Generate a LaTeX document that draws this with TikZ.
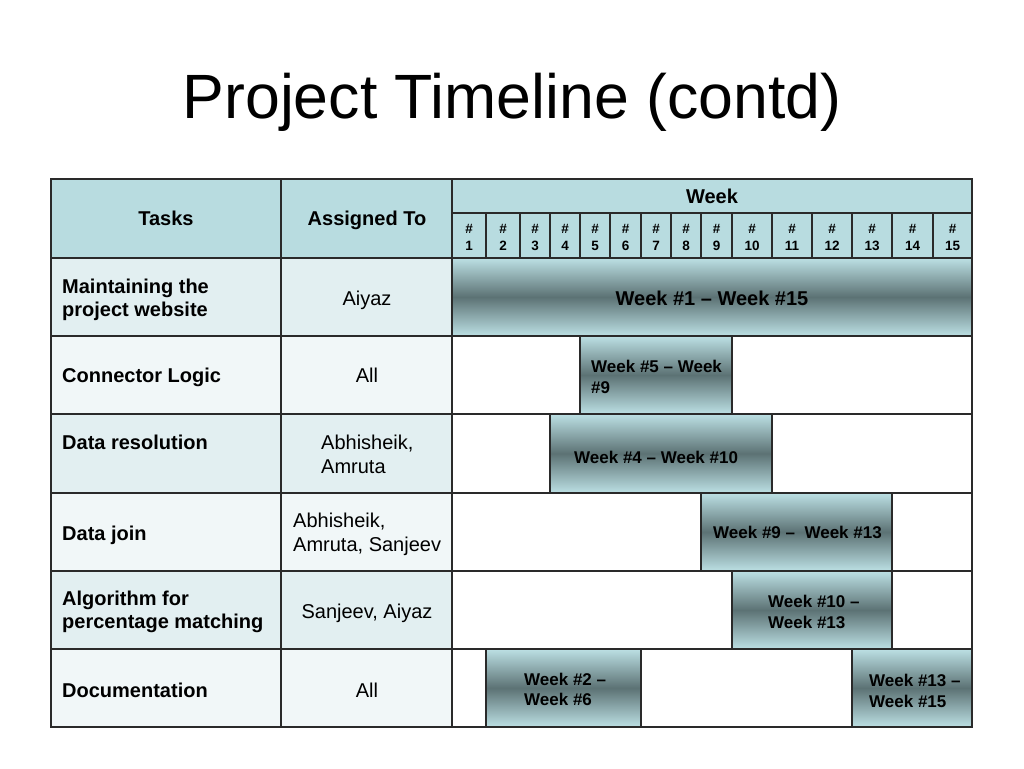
\documentclass[tikz,border=0pt]{standalone}
\usepackage{fontspec}
\setmainfont{Liberation Sans}
\definecolor{hdr}{HTML}{B8DCE0}
\definecolor{rowdk}{HTML}{E2EFF1}
\definecolor{rowlt}{HTML}{F1F7F8}
\definecolor{barlt}{HTML}{BCE0E4}
\definecolor{bardk}{HTML}{5C7274}
\definecolor{gridc}{HTML}{2A2A2A}
\newcommand\myfs[1]{\fontsize{#1}{#1}\selectfont}
\begin{document}
\begin{tikzpicture}[x=1pt,y=-1pt,
  gridline/.style={draw=gridc,line width=1.4pt},
  bar/.style={draw=gridc,line width=1.4pt,top color=barlt,bottom color=barlt,middle color=bardk,inner sep=0pt,outer sep=0pt,anchor=north west},
  txt/.style={inner sep=0pt,anchor=base west,text=black},
  ctxt/.style={inner sep=0pt,anchor=base,text=black},
  hb/.style={font=\myfs{20}\bfseries},
  hr/.style={font=\myfs{20}},
  bt/.style={font=\myfs{17}\bfseries},
  wn/.style={font=\myfs{13.5}\bfseries}
]
\useasboundingbox (0,0) rectangle (1024,768);
\fill[white] (0,0) rectangle (1024,768);

% title
\node[ctxt,font=\myfs{62.6}] (title) at (512,118) {Project Timeline (contd)};

% fills
\fill[hdr] (51,179) rectangle (972,258);
\fill[rowdk] (51,258) rectangle (452,336);
\fill[rowlt] (51,336) rectangle (452,414);
\fill[rowdk] (51,414) rectangle (452,493);
\fill[rowlt] (51,493) rectangle (452,571);
\fill[rowdk] (51,571) rectangle (452,649);
\fill[rowlt] (51,649) rectangle (452,727);

% bars
\node[bar,minimum width=520pt,minimum height=78pt] (b1) at (452,258) {};
\node[bar,minimum width=152pt,minimum height=78pt] (b2) at (580,336) {};
\node[bar,minimum width=222pt,minimum height=79pt] (b3) at (550,414) {};
\node[bar,minimum width=191pt,minimum height=78pt] (b4) at (701,493) {};
\node[bar,minimum width=160pt,minimum height=78pt] (b5) at (732,571) {};
\node[bar,minimum width=155pt,minimum height=78pt] (b6) at (486,649) {};
\node[bar,minimum width=120pt,minimum height=78pt] (b7) at (852,649) {};

% grid
\draw[gridline] (51,179) rectangle (972,727);
\foreach \yy in {258,336,414,493,571,649} \draw[gridline] (51,\yy) -- (972,\yy);
\draw[gridline] (452,213) -- (972,213);
\draw[gridline] (281,179) -- (281,727);
\draw[gridline] (452,179) -- (452,727);
\foreach \xx in {486,520,550,580,610,641,671,701,732,772,812,852,892,933}
  \draw[gridline] (\xx,213) -- (\xx,258);

% header text
\node[ctxt,hb] (tasks) at (166,225) {Tasks};
\node[ctxt,hb] (assigned) at (367,225) {Assigned To};
\node[ctxt,hb] (week) at (712,203) {Week};
\foreach \a/\b/\n in {452/486/1,486/520/2,520/550/3,550/580/4,580/610/5,610/641/6,641/671/7,671/701/8,701/732/9,732/772/10,772/812/11,812/852/12,852/892/13,892/933/14,933/972/15}{
  \node[ctxt,wn] (h\n) at ({(\a+\b)/2},233) {\#};
  \node[ctxt,wn] (n\n) at ({(\a+\b)/2},250) {\n};
}

% tasks
\node[txt,hb] (t1a) at (62,293) {Maintaining the};
\node[txt,hb] (t1b) at (62,316) {project website};
\node[txt,hb] (t2) at (62,382) {Connector Logic};
\node[txt,hb] (t3) at (62,449) {Data resolution};
\node[txt,hb] (t4) at (62,540) {Data join};
\node[txt,hb] (t5a) at (62,605) {Algorithm for};
\node[txt,hb] (t5b) at (62,628) {percentage matching};
\node[txt,hb] (t6) at (62,697) {Documentation};

% assigned
\node[ctxt,hr] (a1) at (367,305) {Aiyaz};
\node[ctxt,hr] (a2) at (367,382) {All};
\node[txt,hr] (a3a) at (321,449) {Abhisheik,};
\node[txt,hr] (a3b) at (321,473) {Amruta};
\node[txt,hr] (a4a) at (293,527) {Abhisheik,};
\node[txt,hr] (a4b) at (293,551) {Amruta, Sanjeev};
\node[ctxt,hr] (a5) at (367,618) {Sanjeev, Aiyaz};
\node[ctxt,hr] (a6) at (367,697) {All};

% bar labels
\node[ctxt,hb] (l1) at (712,305) {Week \#1 \textendash{} Week \#15};
\node[txt,bt] (l2a) at (591,372) {Week \#5 \textendash{} Week};
\node[txt,bt] (l2b) at (591,393) {\#9};
\node[txt,bt] (l3) at (574,463) {Week \#4 \textendash{} Week \#10};
\node[txt,bt] (l4) at (713,538) {Week \#9 \textendash\ \ Week \#13};
\node[txt,bt] (l5a) at (768,607) {Week \#10 \textendash};
\node[txt,bt] (l5b) at (768,628) {Week \#13};
\node[txt,bt] (l6a) at (524,685) {Week \#2 \textendash};
\node[txt,bt] (l6b) at (524,705) {Week \#6};
\node[txt,bt] (l7a) at (869,686) {Week \#13 \textendash};
\node[txt,bt] (l7b) at (869,707) {Week \#15};
\end{tikzpicture}
\end{document}
